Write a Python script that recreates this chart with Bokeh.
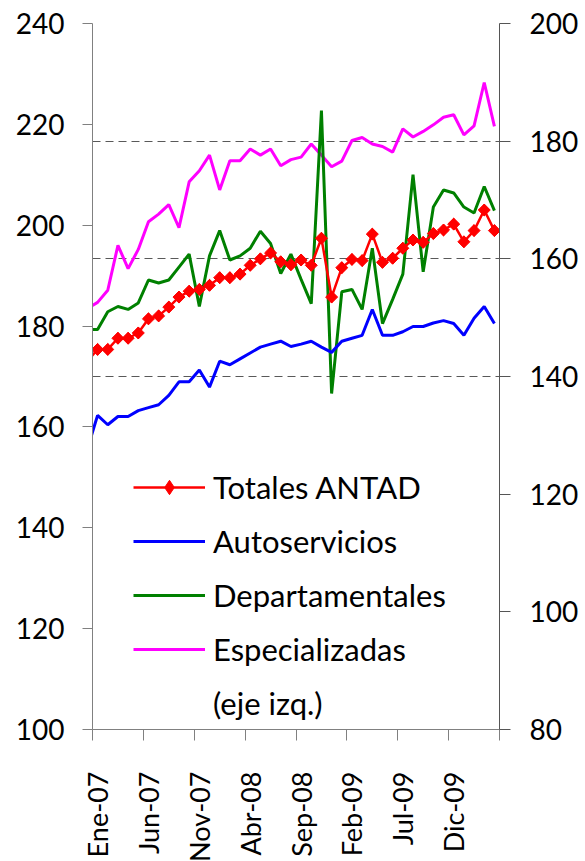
import numpy as np
from bokeh.plotting import figure
from bokeh.models import Range1d, LinearAxis, FixedTicker, Grid, Legend, LegendItem
from bokeh.embed import file_html
from bokeh.resources import INLINE

# Months (first entry is the month before the plotted window, only its line segment shows)
months = ["Dic-06",
          "Ene-07", "Feb-07", "Mar-07", "Abr-07", "May-07", "Jun-07", "Jul-07", "Ago-07", "Sep-07", "Oct-07", "Nov-07", "Dic-07",
          "Ene-08", "Feb-08", "Mar-08", "Abr-08", "May-08", "Jun-08", "Jul-08", "Ago-08", "Sep-08", "Oct-08", "Nov-08", "Dic-08",
          "Ene-09", "Feb-09", "Mar-09", "Abr-09", "May-09", "Jun-09", "Jul-09", "Ago-09", "Sep-09", "Oct-09", "Nov-09", "Dic-09",
          "Ene-10", "Feb-10", "Mar-10", "Abr-10"]

# right axis series
totales = [142.6, 144.6, 144.6, 146.5, 146.5, 147.4, 149.8, 150.3, 151.8, 153.5, 154.5,
           154.8, 155.5, 156.8, 156.8, 157.4, 158.9, 160.0, 161.0, 159.5, 159.0,
           159.8, 158.9, 163.5, 153.5, 158.5, 159.9, 159.7, 164.2, 159.4, 160.1,
           161.8, 163.2, 162.8, 164.3, 164.9, 165.9, 162.9, 164.8, 168.3, 164.8]
autoservicios = [127.7, 133.4, 131.8, 133.2, 133.2, 134.2, 134.7, 135.2, 136.8, 139.1, 139.1,
                 141.1, 138.2, 142.6, 142.0, 143.0, 144.0, 145.0, 145.5, 146.0, 145.1,
                 145.5, 146.0, 145.0, 144.1, 146.0, 146.5, 147.0, 151.4, 147.0, 147.0,
                 147.6, 148.5, 148.5, 149.1, 149.5, 149.0, 147.0, 149.9, 151.9, 149.0]
departamentales = [148.0, 148.0, 151.0, 151.9, 151.4, 152.5, 156.4, 155.9, 156.4, 158.6, 160.8,
                   151.9, 160.5, 164.8, 159.8, 160.5, 161.8, 164.7, 162.6, 157.5, 160.8,
                   156.5, 152.4, 185.2, 137.1, 154.4, 154.8, 151.4, 161.8, 149.0, 153.1,
                   157.4, 174.3, 157.8, 168.8, 171.7, 171.2, 168.8, 167.8, 172.3, 168.2]
# left axis series
especializadas = [183.5, 184.7, 187.1, 196.0, 191.4, 195.2, 200.7, 202.2, 204.1, 199.5, 208.6,
                  210.8, 213.9, 207.0, 212.8, 212.8, 215.1, 213.9, 215.1, 211.8, 213.0,
                  213.5, 216.1, 213.9, 211.6, 212.7, 216.8, 217.4, 216.1, 215.6, 214.5,
                  219.1, 217.5, 218.6, 219.9, 221.4, 221.9, 217.9, 219.7, 228.3, 219.6]

left_ticks = [100, 120, 140, 160, 180, 200, 220, 240]
right_ticks = [80, 100, 120, 140, 160, 180, 200]
grid_ticks = [140, 160, 180, 200]

x = list(range(len(months)))
shown = list(range(1, len(months), 5))
bounds = [i - 0.5 for i in range(1, len(months) + 1, 5)]

FONT = "Lato"
AXC = "#808080"

p = figure(frame_width=407, frame_height=706,
           x_range=Range1d(0.5, len(months) - 0.5), y_range=Range1d(100, 240),
           output_backend="svg", toolbar_location=None,
           min_border_left=92, min_border_right=80, min_border_top=23, min_border_bottom=100)
p.extra_y_ranges = {"right": Range1d(80, 200)}
p.xgrid.visible = False
p.ygrid.visible = False
p.outline_line_color = None
p.background_fill_color = "white"

grid = Grid(dimension=1, y_range_name="right", ticker=FixedTicker(ticks=grid_ticks),
            grid_line_color="#595959", grid_line_dash="8 5", grid_line_width=1)
p.add_layout(grid)

r_mag = p.line(x, especializadas, color="#ff00ff", line_width=3)
r_green = p.line(x, departamentales, y_range_name="right", color="#008000", line_width=3)
r_blue = p.line(x, autoservicios, y_range_name="right", color="#0000ff", line_width=3)
r_red = p.line(x, totales, y_range_name="right", color="#ff0000", line_width=2.5)
# diamond markers (used by the legend) drawn underneath the rotated squares
r_dia_leg = p.scatter(x[1:], totales[1:], y_range_name="right", marker="diamond",
                      size=11.5, color="#ff0000")
r_dia = p.scatter(x[1:], totales[1:], y_range_name="right", marker="square", angle=np.pi / 4,
                  size=8.5, color="#ff0000")
r_dummy = p.line([], [], line_alpha=0)


def style_y(ax, standoff):
    ax.major_tick_out = 10
    ax.major_tick_in = 0
    ax.minor_tick_line_color = None
    ax.axis_line_color = AXC
    ax.major_tick_line_color = AXC
    ax.major_label_text_font = FONT
    ax.major_label_text_font_size = "28px"
    ax.major_label_text_color = "black"
    ax.major_label_standoff = standoff


ya = p.yaxis[0]
ya.ticker = FixedTicker(ticks=left_ticks)
style_y(ya, 18)
ra = LinearAxis(y_range_name="right", ticker=FixedTicker(ticks=right_ticks))
style_y(ra, 19)
ra.major_tick_out = 11
ra.axis_line_color = "#555555"
ra.major_tick_line_color = "#555555"
p.add_layout(ra, "right")

xa = p.xaxis[0]
xa.ticker = FixedTicker(ticks=shown, minor_ticks=bounds)
xa.major_label_overrides = {i: months[i] for i in shown}
xa.major_label_orientation = np.pi / 2
xa.major_tick_out = 0
xa.major_tick_in = 0
xa.major_tick_line_color = None
xa.minor_tick_out = 11
xa.minor_tick_in = 0
xa.minor_tick_line_color = AXC
xa.axis_line_color = AXC
xa.major_label_text_font = FONT
xa.major_label_text_font_size = "27px"
xa.major_label_text_color = "black"
xa.major_label_standoff = 31

legend = Legend(items=[
    LegendItem(label="Totales ANTAD", renderers=[r_red, r_dia_leg]),
    LegendItem(label="Autoservicios", renderers=[r_blue]),
    LegendItem(label="Departamentales", renderers=[r_green]),
    LegendItem(label="Especializadas", renderers=[r_mag]),
    LegendItem(label="(eje izq.)", renderers=[r_dummy]),
], location=(41, 7), glyph_width=72, glyph_height=36, label_height=36, spacing=16,
    padding=0, margin=0, label_standoff=8, label_text_font=FONT,
    label_text_font_size="31px", label_text_color="black",
    border_line_color=None, background_fill_alpha=0)
p.add_layout(legend)

open("out.html", "w").write(file_html(p, INLINE))
